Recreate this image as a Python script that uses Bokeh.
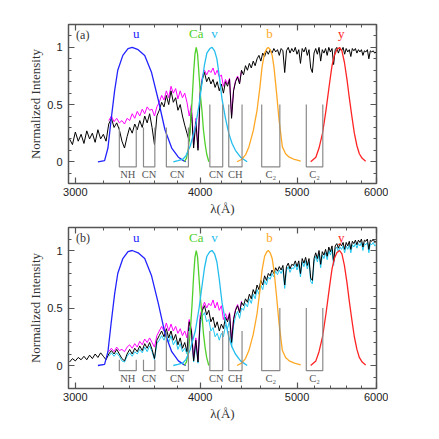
import numpy as np
from bokeh.plotting import figure
from bokeh.layouts import column
from bokeh.models import FixedTicker, CustomJSTickFormatter, LogAxis, LinearAxis, Range1d
from bokeh.core.properties import value
from bokeh.embed import file_html
from bokeh.resources import INLINE

# ---------------- data ----------------
LAM_START = 2960      # first wavelength of the full spectra (A)
LAM_PART_START = 3240 # first wavelength of the partial (comparison) spectra
LAM_STEP = 20

# panel (a) spectra
a_black = [
    0.20, 0.15, 0.26, 0.18, 0.24, 0.16, 0.27, 0.20, 0.25, 0.17,  # 2960
    0.28, 0.20, 0.24, 0.18, 0.33, 0.38, 0.30, 0.34, 0.28, 0.18,  # 3160
    0.12, 0.22, 0.30, 0.25, 0.33, 0.28, 0.36, 0.30, 0.40, 0.34,  # 3360
    0.42, 0.30, 0.15, 0.40, 0.45, 0.52, 0.48, 0.58, 0.50, 0.62,  # 3560
    0.52, 0.56, 0.45, 0.50, 0.40, 0.32, 0.25, 0.18, 0.45, 0.12,  # 3760
    0.35, 0.10, 0.60, 0.72, 0.78, 0.70, 0.74, 0.68, 0.72, 0.65,  # 3960
    0.70, 0.62, 0.68, 0.60, 0.70, 0.66, 0.72, 0.38, 0.62, 0.70,  # 4160
    0.74, 0.68, 0.80, 0.76, 0.84, 0.80, 0.86, 0.82, 0.88, 0.84,  # 4360
    0.90, 0.93, 0.88, 0.95, 0.92, 0.97, 0.94, 0.98, 0.95, 0.99,  # 4560
    0.96, 0.98, 0.93, 0.99, 0.97, 0.78, 0.97, 1.00, 0.95, 0.99,  # 4760
    0.96, 1.00, 0.94, 0.98, 0.86, 0.99, 0.96, 1.00, 0.93, 0.98,  # 4960
    0.82, 0.78, 0.95, 0.99, 0.94, 1.00, 0.88, 0.98, 0.95, 0.99,  # 5160
    0.93, 1.00, 0.96, 0.99, 0.85, 0.98, 1.00, 0.95, 0.99, 0.97,  # 5360
    1.00, 0.94, 0.99, 0.96, 0.98, 0.92, 0.99, 0.97, 0.99, 0.95,  # 5560
    0.98, 0.96, 0.98, 0.93, 0.97, 0.96, 0.98, 0.90, 0.97, 0.96,  # 5760
    0.97, 0.95, 0.96,                                            # 5960
]
a_magenta = [
    0.36, 0.40, 0.35, 0.38, 0.34, 0.36, 0.33, 0.38, 0.36, 0.42,  # 3240
    0.38, 0.44, 0.40, 0.46, 0.42, 0.48, 0.45, 0.46, 0.40, 0.48,  # 3440
    0.52, 0.58, 0.54, 0.62, 0.56, 0.66, 0.60, 0.64, 0.55, 0.62,  # 3640
    0.56, 0.60, 0.52, 0.40, 0.50, 0.15, 0.38, 0.12, 0.62, 0.74,  # 3840
    0.80, 0.76, 0.80, 0.78, 0.82, 0.76, 0.80, 0.74, 0.76, 0.66,  # 4040
    0.72, 0.68, 0.73, 0.40, 0.63, 0.71, 0.75, 0.69, 0.80,        # 4240
]

# panel (b) spectra
b_black = [
    0.03, 0.06, 0.04, 0.07, 0.05, 0.08, 0.05, 0.09, 0.06, 0.10,  # 2960
    0.07, 0.11, 0.08, 0.05, 0.10, 0.13, 0.10, 0.14, 0.10, 0.06,  # 3160
    0.04, 0.10, 0.14, 0.10, 0.15, 0.12, 0.17, 0.13, 0.19, 0.15,  # 3360
    0.20, 0.14, 0.06, 0.22, 0.26, 0.30, 0.25, 0.32, 0.24, 0.30,  # 3560
    0.22, 0.27, 0.18, 0.24, 0.15, 0.20, 0.12, 0.38, 0.30, 0.04,  # 3760
    0.22, 0.03, 0.40, 0.48, 0.52, 0.44, 0.48, 0.38, 0.42, 0.33,  # 3960
    0.38, 0.30, 0.36, 0.32, 0.42, 0.38, 0.45, 0.20, 0.40, 0.48,  # 4160
    0.52, 0.46, 0.55, 0.52, 0.58, 0.55, 0.62, 0.58, 0.66, 0.62,  # 4360
    0.70, 0.66, 0.74, 0.70, 0.78, 0.74, 0.80, 0.78, 0.83, 0.80,  # 4560
    0.85, 0.82, 0.86, 0.83, 0.87, 0.70, 0.86, 0.89, 0.84, 0.88,  # 4760
    0.87, 0.91, 0.86, 0.91, 0.80, 0.93, 0.89, 0.94, 0.87, 0.93,  # 4960
    0.76, 0.74, 0.93, 0.98, 0.93, 1.00, 0.88, 0.99, 0.96, 1.01,  # 5160
    0.95, 1.03, 0.99, 1.04, 0.90, 1.04, 1.06, 1.02, 1.06, 1.04,  # 5360
    1.07, 1.01, 1.07, 1.04, 1.08, 1.01, 1.08, 1.06, 1.09, 1.05,  # 5560
    1.09, 1.07, 1.10, 1.03, 1.09, 1.08, 1.10, 1.01, 1.09, 1.08,  # 5760
    1.10, 1.07, 1.08,                                            # 5960
]
b_magenta = [
    0.12, 0.15, 0.12, 0.16, 0.13, 0.14, 0.12, 0.16, 0.18, 0.15,  # 3240
    0.19, 0.16, 0.21, 0.18, 0.23, 0.20, 0.24, 0.20, 0.16, 0.26,  # 3440
    0.30, 0.34, 0.30, 0.37, 0.30, 0.36, 0.30, 0.34, 0.28, 0.32,  # 3640
    0.26, 0.30, 0.24, 0.40, 0.32, 0.06, 0.24, 0.05, 0.44, 0.50,  # 3840
    0.55, 0.50, 0.54, 0.52, 0.57, 0.50, 0.55, 0.48, 0.52, 0.40,  # 4040
    0.45, 0.40, 0.46, 0.22, 0.41, 0.49, 0.53, 0.47, 0.56,        # 4240
]
b_cyan = [
    0.08, 0.11, 0.08, 0.11, 0.08, 0.04, 0.03, 0.08, 0.11, 0.08,  # 3240
    0.12, 0.10, 0.14, 0.11, 0.16, 0.12, 0.17, 0.12, 0.05, 0.19,  # 3440
    0.22, 0.26, 0.22, 0.28, 0.20, 0.26, 0.18, 0.22, 0.14, 0.19,  # 3640
    0.12, 0.15, 0.10, 0.33, 0.26, 0.03, 0.18, 0.02, 0.36, 0.43,  # 3840
    0.46, 0.38, 0.40, 0.30, 0.33, 0.25, 0.28, 0.22, 0.28, 0.25,  # 4040
    0.35, 0.32, 0.39, 0.16, 0.35, 0.43, 0.47, 0.41, 0.50, 0.48,  # 4240
    0.54, 0.51, 0.58, 0.54, 0.62, 0.58, 0.66, 0.62, 0.70, 0.66,  # 4440
    0.74, 0.70, 0.77, 0.75, 0.80, 0.77, 0.82, 0.79, 0.83, 0.80,  # 4640
    0.84, 0.67, 0.83, 0.86, 0.81, 0.85, 0.84, 0.88, 0.83, 0.88,  # 4840
    0.77, 0.90, 0.86, 0.91, 0.84, 0.90, 0.73, 0.71, 0.90, 0.95,  # 5040
    0.90, 0.97, 0.85, 0.96, 0.93, 0.98, 0.92, 1.00, 0.96, 1.01,  # 5240
    0.87, 1.01, 1.03, 0.99, 1.03, 1.01, 1.04, 0.98, 1.04, 1.01,  # 5440
    1.05, 0.98, 1.05, 1.03, 1.06, 1.02, 1.06, 1.04, 1.07, 1.00,  # 5640
    1.06, 1.05, 1.07, 0.98, 1.06, 1.05, 1.07, 1.04, 1.05,        # 5840
]

# filter transmission curves
u_lam = [3160, 3209, 3234, 3259, 3284, 3308, 3347, 3387, 3420, 3467, 3520, 3576, 3632, 3688, 3746, 3804, 3849, 3870]
u_thr = [0.0, 0.01, 0.12, 0.38, 0.62, 0.80, 0.93, 0.99, 1.0, 0.98, 0.93, 0.78, 0.54, 0.28, 0.12, 0.04, 0.01, 0.0]
ca_lam = [3855, 3875, 3893, 3910, 3925, 3940, 3952, 3964, 3976, 3990, 4005, 4016, 4030, 4045, 4060, 4080]
ca_thr = [0.0, 0.03, 0.12, 0.30, 0.52, 0.78, 0.94, 1.0, 0.94, 0.75, 0.55, 0.45, 0.28, 0.16, 0.07, 0.0]
v_lam = [3760, 3800, 3840, 3870, 3910, 3955, 3990, 4018, 4040, 4062, 4090, 4111, 4135, 4157, 4180, 4206, 4240, 4272, 4305, 4338, 4390, 4457]
v_thr = [0.0, 0.01, 0.02, 0.05, 0.14, 0.30, 0.50, 0.70, 0.85, 0.95, 0.99, 1.0, 0.97, 0.90, 0.75, 0.55, 0.38, 0.25, 0.16, 0.10, 0.04, 0.0]
b_lam = [4354, 4400, 4440, 4475, 4520, 4560, 4590, 4613, 4640, 4665, 4680, 4700, 4722, 4741, 4770, 4798, 4834, 4870, 4911, 4970, 5043]
b_thr = [0.0, 0.02, 0.06, 0.13, 0.27, 0.45, 0.65, 0.83, 0.95, 0.99, 1.0, 0.98, 0.93, 0.83, 0.60, 0.36, 0.13, 0.07, 0.04, 0.02, 0.005]
y_lam = [5160, 5222, 5260, 5303, 5345, 5388, 5420, 5449, 5480, 5515, 5545, 5577, 5610, 5640, 5675, 5706, 5740, 5772, 5810, 5857]
y_thr = [0.0, 0.04, 0.12, 0.25, 0.45, 0.68, 0.84, 0.93, 0.98, 1.0, 0.97, 0.87, 0.72, 0.56, 0.39, 0.25, 0.14, 0.07, 0.03, 0.005]

filter_names = ["u", "Ca", "v", "b", "y"]
filter_label_lam = [3452, 3964, 4135, 4693, 5538]
filter_label_y = 1.117
filter_colors = ["#2323ff", "#4fd02a", "#23bdee", "#ffa825", "#ff2424"]

# spectral index windows
idx_names = ["NH", "CN", "CN", "CN", "CH", "C\u2082", "C\u2082"]
idx_lo = [3320, 3510, 3700, 4090, 4272, 4609, 5108]
idx_hi = [3452, 3603, 3893, 4213, 4405, 4806, 5306]
idx_top_a = [0.30, 0.30, 0.30, 0.50, 0.50, 0.50, 0.50]
idx_top_b = [0.05, 0.05, 0.30, 0.30, 0.30, 0.50, 0.50]
idx_bottom = -0.045
idx_label_y = -0.115

x_major = [3000, 4000, 5000, 6000]
x_minor = list(range(3000, 6001, 200))
y_major = [0, 0.5, 1]
y_minor = [round(-0.1 + 0.1 * i, 1) for i in range(13)]

SERIF = "Liberation Serif"
SANS = "Liberation Sans"


def lam_axis(start, n):
    return [start + LAM_STEP * i for i in range(n)]


def style_axis(ax, labels=True):
    ax.axis_line_color = None
    ax.major_tick_in = 6
    ax.major_tick_out = 0
    ax.minor_tick_in = 3
    ax.minor_tick_out = 0
    ax.major_tick_line_color = "#555555"
    ax.minor_tick_line_color = "#555555"
    ax.major_tick_line_width = 1.2
    ax.minor_tick_line_width = 1.0
    ax.major_label_text_font = SANS
    ax.major_label_text_font_size = "11px"
    ax.major_label_text_color = "#222222"
    if not labels:
        ax.formatter = CustomJSTickFormatter(code="return '';")
        ax.major_label_standoff = 0


def make_panel(tag, spectra, tops, y_lo, frame_h, top_border):
    p = figure(x_axis_type="log", x_range=Range1d(2953, 6005), y_range=Range1d(y_lo, 1.2),
               frame_width=308, frame_height=frame_h, output_backend="svg",
               toolbar_location=None, min_border_left=68, min_border_right=12,
               min_border_top=top_border, min_border_bottom=33)
    p.xgrid.grid_line_color = None
    p.ygrid.grid_line_color = None
    p.outline_line_color = "#555555"
    p.outline_line_width = 1.5
    p.background_fill_color = "white"
    p.border_fill_color = "white"

    xt = FixedTicker(ticks=x_major, minor_ticks=x_minor)
    yt = FixedTicker(ticks=y_major, minor_ticks=y_minor)
    xf = CustomJSTickFormatter(code="return String(Math.round(tick));")
    yf = CustomJSTickFormatter(code="return String(tick);")

    xa = p.xaxis[0]
    xa.ticker = xt
    xa.formatter = xf
    style_axis(xa)
    xa.major_label_standoff = 4
    xa.axis_label = "\u03bb(\u00c5)"
    xa.axis_label_text_font = SERIF
    xa.axis_label_text_font_size = "13px"
    xa.axis_label_text_font_style = "normal"
    xa.axis_label_text_color = "#333333"
    xa.axis_label_standoff = 2

    ya = p.yaxis[0]
    ya.ticker = yt
    ya.formatter = yf
    style_axis(ya)
    ya.major_label_standoff = 6
    ya.axis_label = "Normalized Intensity"
    ya.axis_label_text_font = SERIF
    ya.axis_label_text_font_size = "13px"
    ya.axis_label_text_font_style = "normal"
    ya.axis_label_text_color = "#333333"
    ya.axis_label_standoff = 1

    top = LogAxis(ticker=FixedTicker(ticks=x_major, minor_ticks=x_minor))
    style_axis(top, labels=False)
    p.add_layout(top, "above")
    right = LinearAxis(ticker=FixedTicker(ticks=y_major, minor_ticks=y_minor))
    style_axis(right, labels=False)
    p.add_layout(right, "right")

    # spectra
    for start, vals, color in spectra:
        p.line(lam_axis(start, len(vals)), vals, line_color=color, line_width=1.0)

    # filter curves
    for lam, thr, col in zip([u_lam, ca_lam, v_lam, b_lam, y_lam],
                             [u_thr, ca_thr, v_thr, b_thr, y_thr], filter_colors):
        p.line(lam, thr, line_color=col, line_width=1.3)
    p.text(x=filter_label_lam, y=[filter_label_y] * 5, text=filter_names,
           text_color=filter_colors, text_font=value(SERIF), text_font_size="13px",
           text_align="center", text_baseline="middle")

    # index windows
    xs = [[lo, lo, hi, hi] for lo, hi in zip(idx_lo, idx_hi)]
    ys = [[t, idx_bottom, idx_bottom, t] for t in tops]
    p.multi_line(xs, ys, line_color="#8a8a8a", line_width=1.2)
    mids = [float(np.sqrt(lo * hi)) for lo, hi in zip(idx_lo, idx_hi)]
    p.text(x=mids, y=[idx_label_y] * len(mids), text=idx_names, text_color="#555555",
           text_font=value(SERIF), text_font_size="10.5px", text_align="center",
           text_baseline="middle")

    p.text(x=[3005], y=[1.11], text=[tag], text_color="#333333", text_font=value(SERIF),
           text_font_size="12px", text_align="left", text_baseline="middle")
    return p


p1 = make_panel("(a)",
                [(LAM_PART_START, a_magenta, "#ff00ff"), (LAM_START, a_black, "#000000")],
                idx_top_a, -0.19, 159, 24)
p2 = make_panel("(b)",
                [(LAM_PART_START, b_cyan, "#22c8f0"), (LAM_PART_START, b_magenta, "#ff00ff"),
                 (LAM_START, b_black, "#000000")],
                idx_top_b, -0.2, 161, 9)

layout = column(p1, p2)
open("out.html", "w").write(file_html(layout, INLINE))
